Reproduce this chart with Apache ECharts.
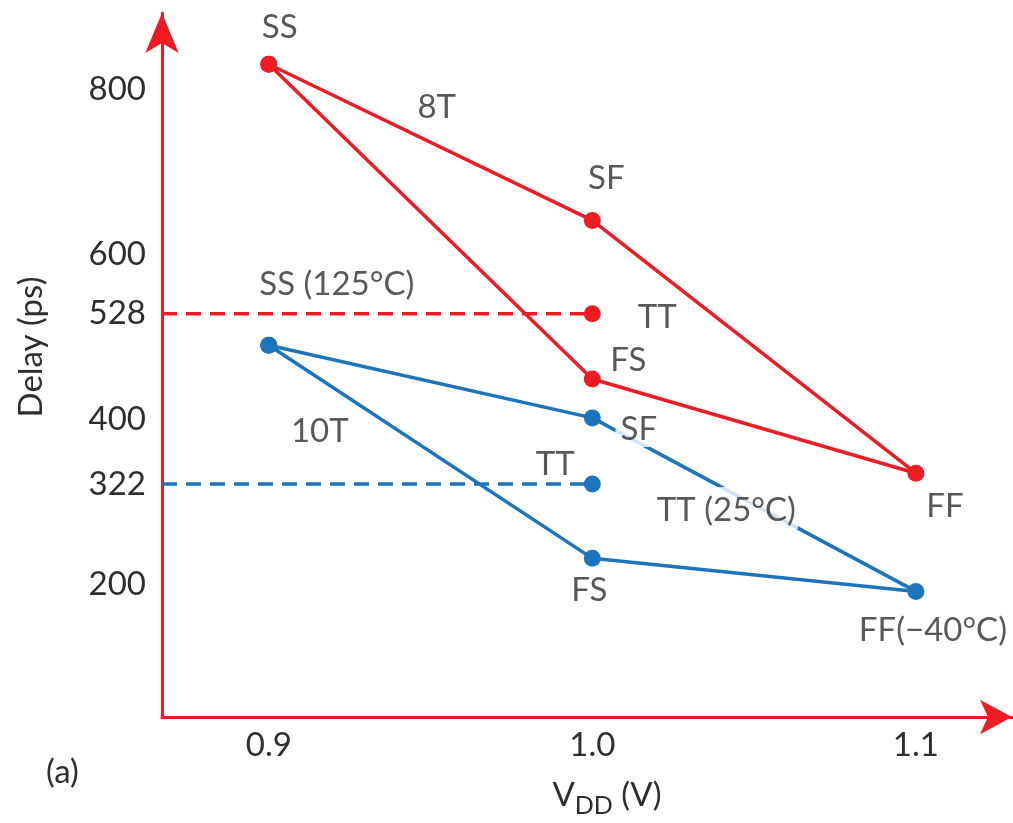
<!DOCTYPE html>
<html>
<head>
<meta charset="utf-8">
<script src="https://cdn.jsdelivr.net/npm/echarts@6/dist/echarts.min.js"></script>
<style>
  html, body { margin: 0; padding: 0; background: #ffffff; }
  #chart { width: 1013px; height: 823px; }
</style>
</head>
<body>
<div id="chart"></div>
<script>
// Process corners, in the order they are joined around each outline
const cornerNames = ['SS', 'SF', 'FF', 'FS'];
const cornerVdd = [0.9, 1.0, 1.1, 1.0];
const delay8T = [830, 641, 335, 449];
const delay10T = [490, 402, 192, 232];
const cornerText8T = ['SS', 'SF', 'FF', 'FS'];
const cornerText10T = ['', 'SF', 'FF(−40°C)', 'FS'];

// Typical corner at nominal supply
const ttVdd = 1.0;
const ttDelay8T = 528;
const ttDelay10T = 322;

// Axis tick labels
const vddTicks = [0.9, 1.0, 1.1];
const delayTicks = [200, 322, 400, 528, 600, 800];

// ---- styling ----
const RED = '#ED1C24';
const BLUE = '#1C75BC';
const INK = '#2e2e2e';
const FONT = 'Lato, "Liberation Sans", sans-serif';
const SIZE = 33;
const X_MIN = 0.867, X_MAX = 1.1297;
const Y_MIN = 40, Y_MAX = 892;

// label placement (pixel offsets from the anchor point)
const offsets8T = [[11, -37], [14, -42], [29, 33], [36, -19]];
const offsets10T = [null, [45, 12], [17, 39], [-3, 32]];

function outline(delays) {
  const pts = cornerVdd.map((v, i) => [v, delays[i]]);
  pts.push(pts[0].slice());
  return pts;
}

function outlineSeries(name, delays, color) {
  return {
    name: name,
    type: 'line',
    data: outline(delays),
    symbol: 'circle',
    symbolSize: 17,
    showSymbol: true,
    lineStyle: { color: color, width: 3.5 },
    itemStyle: { color: color },
    z: 2,
    silent: true
  };
}

function typicalSeries(name, delay, color) {
  return {
    name: name,
    type: 'line',
    data: [
      { value: [X_MIN, delay], symbol: 'none' },
      { value: [ttVdd, delay] }
    ],
    symbol: 'circle',
    symbolSize: 17,
    showSymbol: true,
    lineStyle: { color: color, width: 3.5, type: [15, 9] },
    itemStyle: { color: color },
    z: 2,
    silent: true
  };
}

const textBase = { color: INK, fontSize: SIZE, fontFamily: FONT };

const labelItems = [];
function addLabel(x, y, text, offset, boxPadding) {
  const label = { offset: offset };
  if (boxPadding) {
    // text sits on a white box that interrupts the line running behind it
    label.formatter = '{box|' + text + '}';
    label.rich = {
      box: Object.assign({ backgroundColor: '#ffffff', padding: boxPadding }, textBase)
    };
  } else {
    label.formatter = text;
  }
  labelItems.push({ value: [x, y], label: label });
}

cornerNames.forEach((c, i) => {
  if (cornerText8T[i]) addLabel(cornerVdd[i], delay8T[i], cornerText8T[i], offsets8T[i]);
  if (cornerText10T[i]) {
    addLabel(cornerVdd[i], delay10T[i], cornerText10T[i], offsets10T[i],
      cornerNames[i] === 'SF' ? [0, 2, 1, 5] : null);
  }
});
addLabel(ttVdd, ttDelay8T, 'TT', [65, 4]);
addLabel(ttVdd, ttDelay10T, 'TT', [-37, -20]);
addLabel(cornerVdd[0], delay8T[0], '8T', [168, 43]);
addLabel(cornerVdd[0], delay10T[0], 'SS (125°C)', [68, -61]);
addLabel(cornerVdd[0], delay10T[0], '10T', [51, 86]);
addLabel(ttVdd, ttDelay10T, 'TT (25°C)', [133, 24], [7, 2, 2, 4]);

const chart = echarts.init(document.getElementById('chart'));
chart.setOption({
  animation: false,
  backgroundColor: '#ffffff',
  grid: { left: 162, right: 1, top: 13, bottom: 100, containLabel: false },
  xAxis: {
    type: 'value',
    min: X_MIN,
    max: X_MAX,
    axisLine: {
      show: true, onZero: false,
      symbol: ['none', 'arrow'], symbolSize: [26, 32],
      lineStyle: { color: RED, width: 3 }
    },
    axisTick: { show: false },
    splitLine: { show: false },
    axisLabel: Object.assign({ customValues: vddTicks, margin: 12,
      formatter: v => Number(v).toFixed(1) }, textBase),
    name: '{v|V}{s|DD}{v| (V)}',
    nameLocation: 'middle',
    nameGap: 62,
    nameTextStyle: {
      padding: [0, 0, 0, 40],
      rich: {
        v: { fontSize: SIZE, fontFamily: FONT, color: INK, lineHeight: 33, verticalAlign: 'top' },
        s: { fontSize: 25, fontFamily: FONT, color: INK, lineHeight: 25, verticalAlign: 'top', padding: [14, 0, 0, 0] }
      }
    }
  },
  yAxis: {
    type: 'value',
    min: Y_MIN,
    max: Y_MAX,
    axisLine: {
      show: true, onZero: false,
      symbol: ['none', 'arrow'], symbolSize: [25, 40],
      lineStyle: { color: RED, width: 3 }
    },
    axisTick: { show: false },
    splitLine: { show: false },
    axisLabel: Object.assign({ customValues: delayTicks, margin: 16 }, textBase),
    name: 'Delay (ps)',
    nameLocation: 'middle',
    nameGap: 114,
    nameTextStyle: Object.assign({ padding: [0, 0, 0, 36] }, textBase)
  },
  graphic: [{
    type: 'text',
    left: 46,
    top: 756,
    style: { text: '(a)', fill: INK, font: SIZE + 'px ' + FONT }
  }],
  series: [
    outlineSeries('8T', delay8T, RED),
    outlineSeries('10T', delay10T, BLUE),
    typicalSeries('8T TT', ttDelay8T, RED),
    typicalSeries('10T TT', ttDelay10T, BLUE),
    {
      name: 'labels',
      type: 'scatter',
      data: labelItems,
      symbolSize: 1,
      itemStyle: { color: 'rgba(0,0,0,0)' },
      zlevel: 1,
      z: 10,
      silent: true,
      label: Object.assign({ show: true, position: 'inside' }, textBase)
    }
  ]
});
</script>
</body>
</html>
